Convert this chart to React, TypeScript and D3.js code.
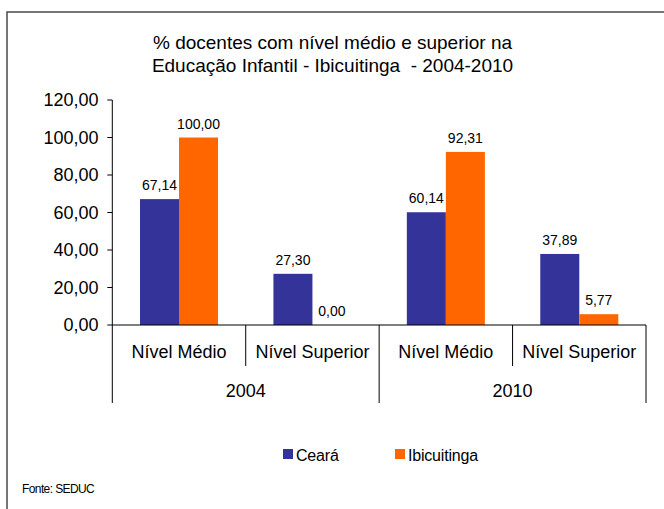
import React from "react";
import * as d3 from "d3";

const years = ["2004", "2010"];
const levels = ["Nível Médio", "Nível Superior"];
const categories = ["2004|Nível Médio", "2004|Nível Superior", "2010|Nível Médio", "2010|Nível Superior"];
const series = ["Ceará", "Ibicuitinga"];
const cearaValues = [67.14, 27.3, 60.14, 37.89];
const ibicuitingaValues = [100.0, 0.0, 92.31, 5.77];
const yTicks = [0, 20, 40, 60, 80, 100, 120];
const titleLines = ["% docentes com nível médio e superior na", "Educação Infantil - Ibicuitinga  - 2004-2010"];
const sourceText = "Fonte: SEDUC";

const colors: Record<string, string> = { "Ceará": "#333399", "Ibicuitinga": "#FF6600" };
const FONT = "'Liberation Sans', Arial, sans-serif";

const fmt = (v: number) => v.toFixed(2).replace(".", ",");

export default function App() {
  const W = 664, H = 509;
  const left = 112.3, right = 646, top = 100, bottom = 325;
  const y = d3.scaleLinear().domain([0, 120]).range([bottom, top]);
  const x0 = d3.scaleBand<string>().domain(categories).range([left, right]).paddingInner(0).paddingOuter(0);
  const x1 = d3.scaleBand<string>().domain(series).range([0, x0.bandwidth()]).paddingInner(0).paddingOuter(0.71);
  const valuesBySeries: Record<string, number[]> = { "Ceará": cearaValues, "Ibicuitinga": ibicuitingaValues };
  const bw = x0.bandwidth();
  const tier1 = 366;
  const tier2 = 403;

  return (
    <div style={{ position: "absolute", left: 0, top: 0 }}>
      <svg width={W} height={H} style={{ display: "block", fontFamily: FONT }}>
        <rect x={0} y={0} width={W} height={H} fill="#fff" />
        <rect x={7} y={12} width={800} height={800} fill="none" stroke="#4a4a4a" strokeWidth={1.5} />
        {titleLines.map((t, i) => (
          <text key={i} x={332.5} y={42 + i * 23} textAnchor="middle" dominantBaseline="central" fontSize={19} fill="#000" style={{ whiteSpace: "pre" }}>
            {t}
          </text>
        ))}
        {/* y axis */}
        <line x1={left} x2={left} y1={top} y2={tier2} stroke="#000" strokeWidth={1} />
        {yTicks.map((t) => (
          <g key={t}>
            <line x1={left - 5} x2={left} y1={y(t)} y2={y(t)} stroke="#000" />
            <text x={98.5} y={y(t)} textAnchor="end" dominantBaseline="central" fontSize={18} fill="#000">
              {fmt(t)}
            </text>
          </g>
        ))}
        {/* bars */}
        {categories.map((c, ci) => (
          <g key={c}>
            {series.map((s) => {
              const v = valuesBySeries[s][ci];
              const bx = (x0(c) as number) + (x1(s) as number);
              return (
                <g key={s}>
                  <rect x={bx} y={y(v)} width={x1.bandwidth()} height={bottom - y(v)} fill={colors[s]} />
                  <text x={bx + x1.bandwidth() / 2} y={y(v) - 14} textAnchor="middle" dominantBaseline="central" fontSize={14} fill="#000">
                    {fmt(v)}
                  </text>
                </g>
              );
            })}
          </g>
        ))}
        {/* x axis */}
        <line x1={left} x2={right} y1={bottom} y2={bottom} stroke="#000" />
        {categories.map((c, ci) => {
          const cx = x0(c) as number;
          return (
            <g key={c}>
              {ci > 0 && ci % 2 === 1 && <line x1={cx} x2={cx} y1={bottom} y2={tier1} stroke="#000" />}
              <text x={cx + bw / 2} y={352} textAnchor="middle" dominantBaseline="central" fontSize={18} fill="#000">
                {levels[ci % 2]}
              </text>
            </g>
          );
        })}
        {years.map((yr, yi) => {
          const sx = x0(categories[yi * 2]) as number;
          return (
            <g key={yr}>
              <line x1={sx + 2 * bw} x2={sx + 2 * bw} y1={bottom} y2={tier2} stroke="#000" />
              <text x={sx + bw} y={391} textAnchor="middle" dominantBaseline="central" fontSize={18} fill="#000">
                {yr}
              </text>
            </g>
          );
        })}
        {/* legend */}
        {series.map((s, i) => {
          const lx = 283 + i * 112;
          return (
            <g key={s}>
              <rect x={lx} y={449} width={10} height={10} fill={colors[s]} />
              <text x={lx + 13} y={455} dominantBaseline="central" fontSize={16} letterSpacing={-0.2} fill="#000">
                {s}
              </text>
            </g>
          );
        })}
        <text x={22} y={489} dominantBaseline="central" fontSize={12} letterSpacing={-0.6} fill="#000">
          {sourceText}
        </text>
      </svg>
    </div>
  );
}
